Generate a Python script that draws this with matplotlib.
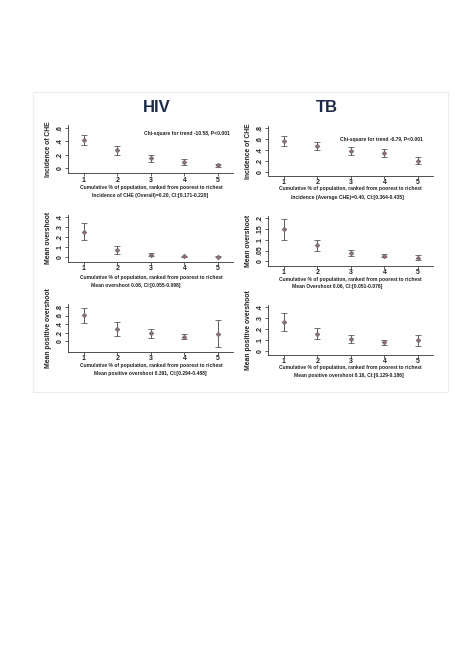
import matplotlib
matplotlib.use('Agg')
import matplotlib.pyplot as plt
from matplotlib.patches import Rectangle
from matplotlib.ticker import FuncFormatter

quintile = [1, 2, 3, 4, 5]

# HIV
hiv_che = [0.425, 0.265, 0.145, 0.09, 0.04]
hiv_che_lo = [0.345, 0.195, 0.09, 0.05, 0.015]
hiv_che_hi = [0.49, 0.325, 0.195, 0.13, 0.065]
hiv_mo = [0.252, 0.072, 0.026, 0.010, 0.007]
hiv_mo_lo = [0.167, 0.03, 0.01, 0.003, 0.001]
hiv_mo_hi = [0.334, 0.115, 0.039, 0.016, 0.013]
hiv_mpo = [0.612, 0.275, 0.18, 0.102, 0.173]
hiv_mpo_lo = [0.416, 0.118, 0.078, 0.047, -0.149]
hiv_mpo_hi = [0.784, 0.44, 0.29, 0.157, 0.494]

# TB
tb_che = [0.562, 0.482, 0.39, 0.342, 0.20]
tb_che_lo = [0.482, 0.397, 0.30, 0.263, 0.14]
tb_che_hi = [0.653, 0.556, 0.464, 0.427, 0.27]
tb_mo = [0.150, 0.074, 0.039, 0.026, 0.017]
tb_mo_lo = [0.099, 0.050, 0.025, 0.019, 0.006]
tb_mo_hi = [0.198, 0.098, 0.054, 0.034, 0.029]
tb_mpo = [0.263, 0.156, 0.107, 0.076, 0.095]
tb_mpo_lo = [0.183, 0.110, 0.070, 0.055, 0.046]
tb_mpo_hi = [0.345, 0.205, 0.147, 0.10, 0.147]

xlab = 'Cumulative % of population, ranked from poorest to richest'

W, H = 474, 670
plt.rcParams['font.family'] = ['Liberation Sans', 'DejaVu Sans']
fig = plt.figure(figsize=(W / 100, H / 100), dpi=100)


def fx(x):
    return x / W


def fy(y):
    return 1 - y / H


def stata_fmt(v, pos):
    s = ('%g' % round(v, 3))
    if s.startswith('0.'):
        s = s[1:]
    return s


def panel(x0, x1, ytop, ybot, ylim, yticks, y, lo, hi, ylabel):
    ax = fig.add_axes([fx(x0), fy(ybot), (x1 - x0) / W, (ybot - ytop) / H])
    ax.set_xlim(0.53, 5.45)
    ax.set_ylim(*ylim)
    yerr = [[v - l for v, l in zip(y, lo)], [h - v for v, h in zip(y, hi)]]
    ax.errorbar(quintile, y, yerr=yerr, fmt='D', ms=2.3, mfc='#a06874', mec='#707070',
                mew=0.6, ecolor='#5a5a5a', elinewidth=0.7, capsize=2.2, capthick=0.7)
    for s in ['top', 'right']:
        ax.spines[s].set_visible(False)
    for s in ['left', 'bottom']:
        ax.spines[s].set_linewidth(0.6)
        ax.spines[s].set_color('#333333')
    ax.set_xticks(quintile)
    ax.set_yticks(yticks)
    ax.yaxis.set_major_formatter(FuncFormatter(stata_fmt))
    ax.tick_params(length=2, width=0.5, labelsize=5, colors='#222222')
    ax.tick_params(axis='x', pad=0.6)
    ax.tick_params(axis='y', pad=1)
    for t in ax.get_yticklabels():
        t.set_rotation(90)
        t.set_va('center')
        t.set_fontweight('bold')
    for t in ax.get_xticklabels():
        t.set_fontweight('bold')
    ax.set_ylabel(ylabel, fontsize=4.9, fontweight='bold', color='#222222')
    ax.yaxis.set_label_coords(-16 / (x1 - x0), 0.5)
    ax.patch.set_alpha(0)
    return ax


# light frame around the whole figure block
fig.patches.append(Rectangle((fx(33), fy(392)), 415 / W, 300 / H, transform=fig.transFigure,
                             fill=False, edgecolor='#ececec', linewidth=0.8))

fig.text(fx(157), fy(107), 'HIV', ha='center', va='center', fontsize=12,
         fontweight='bold', color='#1c2a48')
fig.text(fx(327), fy(107), 'TB', ha='center', va='center', fontsize=12,
         fontweight='bold', color='#1c2a48')

txt = dict(ha='center', va='center', fontsize=3.6, fontweight='bold', color='#222222')

# HIV panels
panel(68, 233, 125, 173, (-0.075, 0.645), [0, 0.2, 0.4, 0.6], hiv_che, hiv_che_lo, hiv_che_hi,
      'Incidence of CHE')
fig.text(fx(186.5), fy(134), 'Chi-square for trend -10.58, P<0.001', **txt)
fig.text(fx(151), fy(188), xlab, **txt)
fig.text(fx(150), fy(196), 'Incidence of CHE (Overall)=0.20, CI:[0.171-0.220]', **txt)

panel(68, 233, 215, 261.7, (-0.043, 0.417), [0, 0.1, 0.2, 0.3, 0.4], hiv_mo, hiv_mo_lo, hiv_mo_hi,
      'Mean overshoot')
fig.text(fx(151), fy(277), xlab, **txt)
fig.text(fx(136), fy(285.7), 'Mean overshoot 0.08, CI:[0.055-0.098]', **txt)

panel(68, 233, 304.3, 351.7, (-0.25, 0.863), [0, 0.2, 0.4, 0.6, 0.8], hiv_mpo, hiv_mpo_lo,
      hiv_mpo_hi, 'Mean positive overshoot')
fig.text(fx(151), fy(365), xlab, **txt)
fig.text(fx(150), fy(373), 'Mean positive overshoot 0.391, CI:[0.294-0.488]', **txt)

# TB panels
panel(268, 433, 126, 175.5, (-0.07, 0.842), [0, 0.2, 0.4, 0.6, 0.8], tb_che, tb_che_lo, tb_che_hi,
      'Incidence of CHE')
fig.text(fx(381.5), fy(140), 'Chi-square for trend -6.79, P<0.001', **txt)
fig.text(fx(350), fy(188.5), xlab, **txt)
fig.text(fx(347), fy(197), 'Incidence (Average CHE)=0.40, CI:[0.364-0.435]', **txt)

panel(268, 433, 216, 265.5, (-0.02, 0.211), [0, 0.05, 0.1, 0.15, 0.2], tb_mo, tb_mo_lo, tb_mo_hi,
      'Mean overshoot')
fig.text(fx(350), fy(279), xlab, **txt)
fig.text(fx(337), fy(287), 'Mean Overshoot 0.06, CI:[0.051-0.076]', **txt)

panel(268, 433, 305, 354.5, (-0.035, 0.421), [0, 0.1, 0.2, 0.3, 0.4], tb_mpo, tb_mpo_lo, tb_mpo_hi,
      'Mean positive overshoot')
fig.text(fx(350), fy(367.5), xlab, **txt)
fig.text(fx(348.5), fy(375.5), 'Mean positive overshoot 0.16, CI:[0.129-0.186]', **txt)

fig.savefig('out.png', dpi=100, facecolor='white')
